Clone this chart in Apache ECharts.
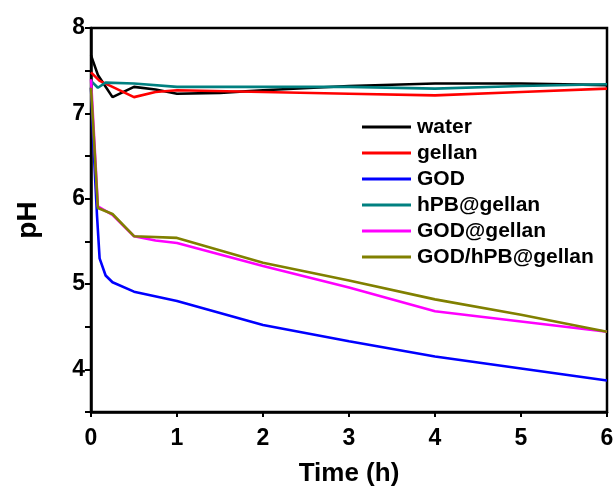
<!DOCTYPE html>
<html>
<head>
<meta charset="utf-8">
<script src="https://cdn.jsdelivr.net/npm/echarts@6/dist/echarts.min.js"></script>
<style>
  html, body { margin: 0; padding: 0; background: #fff; }
  #main { width: 616px; height: 486px; }
</style>
</head>
<body>
<div id="main"></div>
<script>
// 数据 (Time in h, pH)
var seriesNames = ['water', 'gellan', 'GOD', 'hPB@gellan', 'GOD@gellan', 'GOD/hPB@gellan'];
var seriesColors = ['#000000', '#ff0000', '#0000ff', '#008080', '#ff00ff', '#808000'];

var tWater = [0, 0.08, 0.25, 0.5, 0.75, 1, 1.5, 2, 3, 4, 5, 6];
var phWater = [7.68, 7.45, 7.19, 7.31, 7.28, 7.23, 7.24, 7.27, 7.32, 7.35, 7.35, 7.33];

var tGellan = [0, 0.1, 0.25, 0.5, 0.75, 1, 2, 3, 4, 5, 6];
var phGellan = [7.48, 7.38, 7.31, 7.19, 7.25, 7.27, 7.25, 7.23, 7.21, 7.25, 7.29];

var tGod = [0, 0.03, 0.07, 0.1, 0.17, 0.25, 0.5, 1, 2, 3, 4, 5, 6];
var phGod = [7.3, 6.6, 5.8, 5.3, 5.1, 5.02, 4.91, 4.80, 4.52, 4.33, 4.15, 4.01, 3.87];

var tHpb = [0, 0.08, 0.17, 0.5, 1, 2, 3, 4, 5, 6];
var phHpb = [7.38, 7.30, 7.36, 7.35, 7.31, 7.31, 7.31, 7.29, 7.32, 7.34];

var tGodGellan = [0, 0.08, 0.25, 0.5, 0.75, 1, 2, 3, 4, 5, 6];
var phGodGellan = [7.4, 5.91, 5.81, 5.56, 5.51, 5.48, 5.21, 4.96, 4.68, 4.56, 4.44];

var tGodHpb = [0, 0.08, 0.25, 0.5, 1, 2, 3, 4, 5, 6];
var phGodHpb = [7.3, 5.89, 5.82, 5.56, 5.54, 5.25, 5.04, 4.82, 4.64, 4.44];

var xTicks = [0, 1, 2, 3, 4, 5, 6];
var yTicks = [4, 5, 6, 7, 8];

var allT = [tWater, tGellan, tGod, tHpb, tGodGellan, tGodHpb];
var allPh = [phWater, phGellan, phGod, phHpb, phGodGellan, phGodHpb];

function pairs(ts, vs) {
    return ts.map(function (t, i) { return [t, vs[i]]; });
}

var chart = echarts.init(document.getElementById('main'), null, { renderer: 'canvas' });

var font = 'Liberation Sans, Arial, sans-serif';

var option = {
    animation: false,
    backgroundColor: '#fff',
    grid: {
        left: 91, right: 9, top: 28, bottom: 74,
        outerBoundsMode: 'none',
        containLabel: false,
        show: true, borderColor: '#000', borderWidth: 2.5
    },
    legend: {
        data: seriesNames,
        orient: 'vertical',
        left: 362,
        top: 116,
        padding: 0,
        itemWidth: 49,
        itemHeight: 3,
        itemGap: 4,
        icon: 'rect',
        textStyle: { fontFamily: font, fontWeight: 'bold', fontSize: 21, color: '#000', lineHeight: 22, padding: [0, 0, 0, 1] }
    },
    xAxis: {
        type: 'value',
        min: 0, max: 6, interval: 1,
        name: 'Time (h)',
        nameLocation: 'middle',
        nameGap: 49,
        nameTextStyle: { fontFamily: font, fontWeight: 'bold', fontSize: 26, color: '#000' },
        axisLine: { show: true, onZero: false, lineStyle: { color: '#000', width: 2.5 } },
        axisTick: { show: true, inside: false, length: 5, lineStyle: { color: '#000', width: 2 } },
        axisLabel: {
            fontFamily: font, fontWeight: 'bold', fontSize: 23, color: '#000', margin: 15,
            formatter: function (v) { return xTicks.indexOf(v) >= 0 ? String(v) : ''; }
        },
        splitLine: { show: false }
    },
    yAxis: {
        type: 'value',
        min: 3.5, max: 8, interval: 0.5,
        name: 'pH',
        nameLocation: 'middle',
        nameGap: 49,
        nameTextStyle: { fontFamily: font, fontWeight: 'bold', fontSize: 28, color: '#000' },
        axisLine: { show: true, onZero: false, lineStyle: { color: '#000', width: 2.5 } },
        axisTick: { show: true, inside: false, length: 6, lineStyle: { color: '#000', width: 2 } },
        axisLabel: {
            fontFamily: font, fontWeight: 'bold', fontSize: 23, color: '#000', margin: 6,
            formatter: function (v) { return yTicks.indexOf(v) >= 0 ? String(v) : ''; }
        },
        splitLine: { show: false }
    },
    series: seriesNames.map(function (name, i) {
        return {
            name: name,
            type: 'line',
            data: pairs(allT[i], allPh[i]),
            showSymbol: false,
            symbol: 'none',
            color: seriesColors[i],
            lineStyle: { color: seriesColors[i], width: 2.6 },
            z: 2 + i
        };
    })
};

chart.setOption(option);
</script>
</body>
</html>
